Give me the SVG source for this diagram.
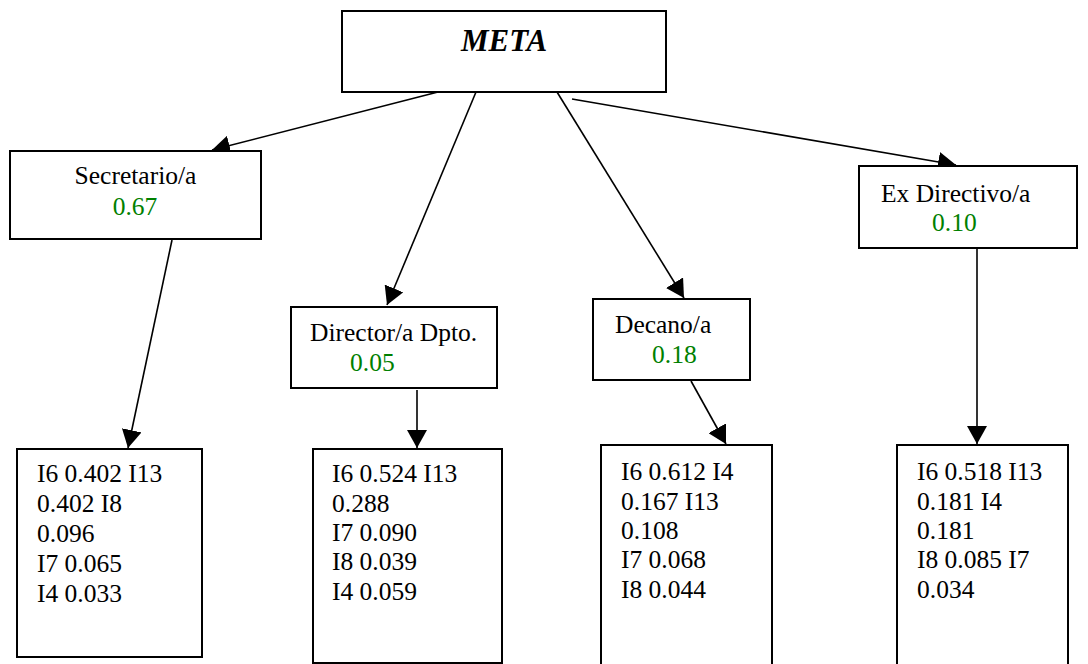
<svg xmlns="http://www.w3.org/2000/svg" width="1088" height="664" viewBox="0 0 1088 664">
  <style>
    .box { fill: #ffffff; stroke: #000000; stroke-width: 2; }
    .t { font-family: "Liberation Serif", "Times New Roman", serif; font-size: 25.5px; fill: #000000; }
    .g { font-family: "Liberation Serif", "Times New Roman", serif; font-size: 25.5px; fill: #008000; }
    .meta { font-family: "Liberation Serif", "Times New Roman", serif; font-size: 31px; font-weight: bold; font-style: italic; fill: #000000; }
    .edge { stroke: #000000; stroke-width: 1.6; fill: none; marker-end: url(#arrow); }
  </style>
  <defs>
    <marker id="arrow" viewBox="0 0 18 20" refX="18" refY="10" markerWidth="18" markerHeight="20" markerUnits="userSpaceOnUse" orient="auto">
      <path d="M0,0 L18,10 L0,20 z" fill="#000000"/>
    </marker>
  </defs>
  <rect width="1088" height="664" fill="#ffffff"/>

  <g id="connectors">
    <line class="edge" x1="438" y1="92" x2="212" y2="150"/>
    <line class="edge" x1="476" y1="92" x2="387" y2="305"/>
    <line class="edge" x1="557" y1="92" x2="684" y2="298"/>
    <line class="edge" x1="572" y1="99" x2="956" y2="165"/>
    <line class="edge" x1="172" y1="240" x2="128" y2="448"/>
    <line class="edge" x1="417" y1="390" x2="417" y2="448"/>
    <line class="edge" x1="691" y1="381" x2="726" y2="444"/>
    <line class="edge" x1="977" y1="249" x2="977" y2="444"/>
  </g>

  <g id="meta">
    <rect class="box" x="342" y="11" width="324" height="81"/>
    <text class="meta" x="504" y="51" text-anchor="middle">META</text>
  </g>

  <g id="secretario">
    <rect class="box" x="10" y="151" width="251" height="88"/>
    <text class="t" x="135.5" y="184" text-anchor="middle">Secretario/a</text>
    <text class="g" x="135" y="215" text-anchor="middle">0.67</text>
  </g>

  <g id="director">
    <rect class="box" x="291" y="307" width="206" height="81"/>
    <text class="t" x="310" y="341">Director/a Dpto.</text>
    <text class="g" x="350" y="371">0.05</text>
  </g>

  <g id="decano">
    <rect class="box" x="593" y="299" width="157" height="81"/>
    <text class="t" x="615" y="333">Decano/a</text>
    <text class="g" x="652" y="363">0.18</text>
  </g>

  <g id="exdirectivo">
    <rect class="box" x="859" y="166" width="218" height="82"/>
    <text class="t" x="881" y="202">Ex Directivo/a</text>
    <text class="g" x="932" y="231">0.10</text>
  </g>

  <g id="res-secretario">
    <rect class="box" x="17" y="449" width="185" height="208"/>
    <text class="t" x="37" y="482">I6 0.402 I13</text>
    <text class="t" x="37" y="512">0.402 I8</text>
    <text class="t" x="37" y="542">0.096</text>
    <text class="t" x="37" y="572">I7 0.065</text>
    <text class="t" x="37" y="602">I4 0.033</text>
  </g>

  <g id="res-director">
    <rect class="box" x="313" y="449" width="189" height="214"/>
    <text class="t" x="332" y="482">I6 0.524 I13</text>
    <text class="t" x="332" y="512">0.288</text>
    <text class="t" x="332" y="541">I7 0.090</text>
    <text class="t" x="332" y="570">I8 0.039</text>
    <text class="t" x="332" y="600">I4 0.059</text>
  </g>

  <g id="res-decano">
    <rect class="box" x="601" y="445" width="171" height="230"/>
    <text class="t" x="621" y="480">I6 0.612 I4</text>
    <text class="t" x="621" y="510">0.167 I13</text>
    <text class="t" x="621" y="539">0.108</text>
    <text class="t" x="621" y="568">I7 0.068</text>
    <text class="t" x="621" y="598">I8 0.044</text>
  </g>

  <g id="res-exdirectivo">
    <rect class="box" x="897" y="445" width="171" height="230"/>
    <text class="t" x="917" y="480">I6 0.518 I13</text>
    <text class="t" x="917" y="510">0.181 I4</text>
    <text class="t" x="917" y="539">0.181</text>
    <text class="t" x="917" y="568">I8 0.085 I7</text>
    <text class="t" x="917" y="598">0.034</text>
  </g>
</svg>
